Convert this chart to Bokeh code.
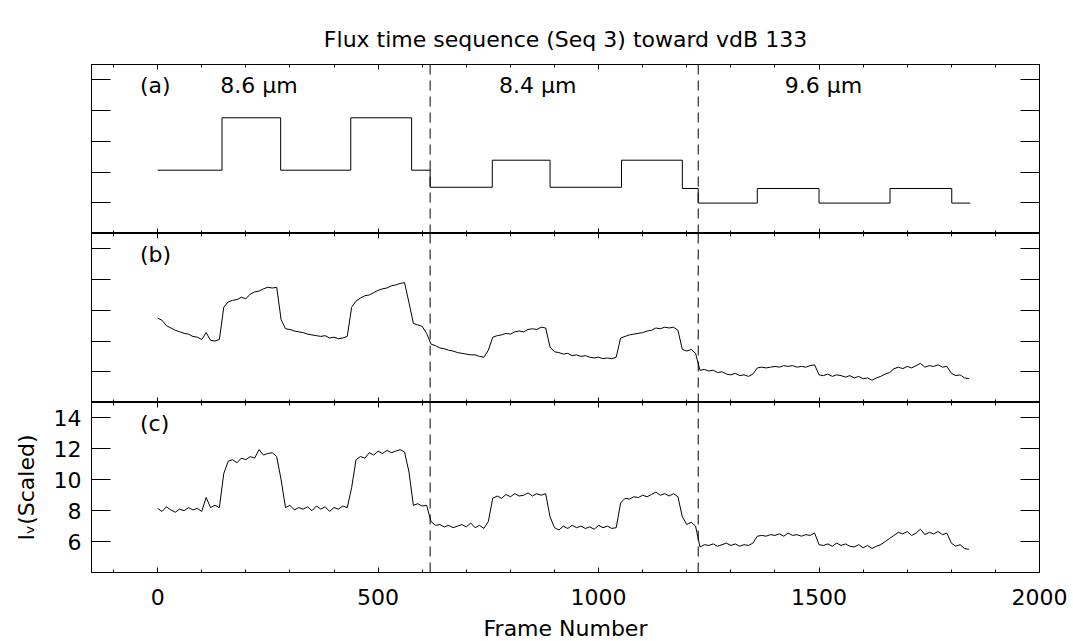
from bokeh.plotting import figure
from bokeh.models import LinearAxis, FixedTicker, Range1d, Span, Label
from bokeh.layouts import column
from bokeh.embed import file_html
from bokeh.resources import INLINE

# ---------------- data ----------------
FRAMES = list(range(0, 1841, 10))

FLUX_B = [
    9.5, 9.35, 9.0, 8.85, 8.7, 8.6, 8.5, 8.45, 8.3, 8.25,
    8.1, 8.55, 8.05, 8.0, 8.1, 10.2, 10.55, 10.65, 10.7, 10.85,
    10.75, 11.05, 11.2, 11.25, 11.4, 11.5, 11.45, 11.5, 9.4, 8.8,
    8.75, 8.65, 8.6, 8.55, 8.45, 8.4, 8.35, 8.3, 8.35, 8.2,
    8.25, 8.15, 8.2, 8.3, 10.2, 10.6, 10.8, 10.95, 11.0, 11.15,
    11.3, 11.4, 11.45, 11.6, 11.65, 11.75, 11.8, 10.5, 9.15, 9.05,
    8.95, 8.5, 7.8, 7.7, 7.55, 7.5, 7.4, 7.35, 7.25, 7.2,
    7.15, 7.1, 7.1, 7.0, 6.95, 7.4, 8.25, 8.35, 8.4, 8.5,
    8.45, 8.6, 8.65, 8.6, 8.75, 8.8, 8.75, 8.9, 8.85, 7.6,
    7.3, 7.25, 7.15, 7.2, 7.05, 7.1, 7.0, 7.05, 6.95, 6.9,
    6.95, 6.85, 6.9, 6.85, 6.95, 8.2, 8.3, 8.4, 8.45, 8.5,
    8.55, 8.65, 8.7, 8.85, 8.8, 8.9, 8.85, 8.9, 8.7, 7.45,
    7.35, 7.45, 7.2, 6.1, 6.15, 6.05, 6.1, 5.95, 6.0, 5.85,
    5.8, 5.9, 5.75, 5.8, 5.7, 5.85, 6.25, 6.3, 6.25, 6.3,
    6.35, 6.3, 6.4, 6.35, 6.4, 6.3, 6.35, 6.3, 6.4, 6.45,
    5.8, 5.75, 5.85, 5.7, 5.8, 5.75, 5.65, 5.75, 5.6, 5.7,
    5.55, 5.6, 5.45, 5.6, 5.7, 5.85, 5.95, 6.2, 6.3, 6.2,
    6.35, 6.25, 6.4, 6.55, 6.3, 6.4, 6.35, 6.45, 6.3, 6.35,
    5.9, 5.75, 5.8, 5.6, 5.55,
]

FLUX_C = [
    8.15, 7.95, 8.25, 8.05, 7.9, 8.1, 8.0, 8.2, 8.05, 8.15,
    7.95, 8.85, 8.2, 8.35, 8.2, 10.4, 11.2, 11.3, 11.1, 11.4,
    11.3, 11.5, 11.4, 11.95, 11.6, 11.7, 11.75, 11.5, 10.0, 8.2,
    8.35, 8.05, 8.2, 8.1, 8.25, 8.0, 8.3, 8.1, 8.25, 7.95,
    8.2, 8.1, 8.3, 8.2, 9.5, 11.3, 11.5, 11.4, 11.75, 11.6,
    11.85, 11.7, 11.9, 11.75, 11.85, 11.95, 11.8, 10.5, 8.35, 8.45,
    8.3, 8.35, 7.3, 7.05, 7.1, 6.95, 7.05, 6.9, 7.0, 7.1,
    6.95, 7.2, 6.9, 7.05, 6.85, 7.3, 8.8, 8.95, 8.8, 9.05,
    8.9, 9.1, 8.95, 9.0, 9.15, 8.95, 9.1, 9.0, 9.1, 7.6,
    6.9, 6.75, 7.0, 6.85, 7.05, 6.9, 7.0, 6.85, 6.95, 6.8,
    7.05, 6.9, 7.0, 6.85, 6.9, 8.5, 8.8, 8.75, 8.9, 8.85,
    9.0, 8.9, 9.05, 9.2, 9.0, 9.1, 8.95, 9.1, 8.9, 7.6,
    7.1, 7.25, 7.0, 5.65, 5.8, 5.75, 5.85, 5.7, 5.8, 5.9,
    5.75, 5.85, 5.7, 5.8, 5.75, 5.9, 6.35, 6.4, 6.35, 6.45,
    6.4, 6.5, 6.35, 6.55, 6.4, 6.45, 6.35, 6.45, 6.4, 6.55,
    5.8, 5.75, 5.85, 5.7, 5.9, 5.75, 5.85, 5.7, 5.65, 5.8,
    5.6, 5.75, 5.55, 5.7, 5.8, 6.0, 6.2, 6.4, 6.6, 6.5,
    6.65, 6.4, 6.55, 6.8, 6.45, 6.6, 6.5, 6.65, 6.45, 6.55,
    5.9, 5.7, 5.8, 5.55, 5.5,
]

STEP_EDGES = [0, 146, 279, 438, 576, 618, 759, 890, 1052, 1190, 1226,
              1360, 1500, 1661, 1801, 1843]
STEP_LEVELS = [8.12, 11.53, 8.12, 11.53, 8.12, 7.01, 8.77, 7.01, 8.77, 6.93,
               5.98, 6.93, 5.98, 6.93, 5.98]

DIVIDERS = [618, 1226]
WAVE_LABELS = ["8.6 \u03bcm", "8.4 \u03bcm", "9.6 \u03bcm"]
WAVE_LABEL_X = [230, 862, 1510]
PANEL_TAGS = ["(a)", "(b)", "(c)"]

X_TICKS = [0, 500, 1000, 1500, 2000]
X_MINOR = [v for v in range(-100, 2001, 100) if v % 500 != 0]
Y_TICKS = [6, 8, 10, 12, 14]

FONT = "DejaVu Sans"
TICK_FS = "22px"
INK = "black"


def hide_labels(ax, ticks):
    ax.major_label_overrides = {t: "" for t in ticks}
    ax.major_label_text_font_size = "1px"
    ax.major_label_standoff = 0


def add_axes(p, x_labels, y_labels):
    for side, show in (("below", x_labels), ("above", False)):
        ax = LinearAxis(ticker=FixedTicker(ticks=X_TICKS, minor_ticks=X_MINOR))
        ax.major_tick_in = 5
        ax.major_tick_out = 0
        ax.minor_tick_in = 3
        ax.minor_tick_out = 0
        ax.axis_line_color = INK
        ax.major_tick_line_color = INK
        ax.minor_tick_line_color = INK
        if show:
            ax.major_label_text_font = FONT
            ax.major_label_text_font_size = TICK_FS
            ax.major_label_text_color = INK
            ax.major_label_standoff = 16
            ax.axis_label = "Frame Number"
            ax.axis_label_text_font = FONT
            ax.axis_label_text_font_size = TICK_FS
            ax.axis_label_text_font_style = "normal"
            ax.axis_label_text_color = INK
            ax.axis_label_standoff = 8
        else:
            hide_labels(ax, X_TICKS)
        p.add_layout(ax, side)
    for side, show in (("left", y_labels), ("right", False)):
        ay = LinearAxis(ticker=FixedTicker(ticks=Y_TICKS, minor_ticks=[]))
        ay.major_tick_in = 19
        ay.major_tick_out = 0
        ay.minor_tick_in = 0
        ay.minor_tick_out = 0
        ay.axis_line_color = INK
        ay.major_tick_line_color = INK
        if show:
            ay.major_label_text_font = FONT
            ay.major_label_text_font_size = TICK_FS
            ay.major_label_text_color = INK
            ay.major_label_standoff = 10
            ay.major_label_orientation = "horizontal"
            ay.axis_label = "I\u1d65(Scaled)"
            ay.axis_label_text_font = FONT
            ay.axis_label_text_font_size = TICK_FS
            ay.axis_label_text_font_style = "normal"
            ay.axis_label_text_color = INK
            ay.axis_label_standoff = 12
        else:
            hide_labels(ay, Y_TICKS)
        p.add_layout(ay, side)


def make_panel(frame_h, border_top, border_bottom, tag, x_labels=False, y_labels=False, title=None):
    p = figure(frame_width=948, frame_height=frame_h,
               x_range=Range1d(-150, 2000), y_range=Range1d(4, 15),
               x_axis_location=None, y_axis_location=None,
               toolbar_location=None, output_backend="svg",
               min_border_left=91, min_border_right=34,
               min_border_top=border_top, min_border_bottom=border_bottom,
               title=title)
    p.grid.visible = False
    p.outline_line_color = INK
    p.outline_line_width = 1
    p.background_fill_color = "white"
    p.border_fill_color = "white"
    if title is not None:
        p.title.align = "center"
        p.title.text_font = FONT
        p.title.text_font_size = "22px"
        p.title.text_font_style = "normal"
        p.title.text_color = INK
        p.title.standoff = 26
    add_axes(p, x_labels, y_labels)
    for d in DIVIDERS:
        p.add_layout(Span(location=d, dimension="height", line_color=INK,
                          line_width=1, line_dash="10 6"))
    p.add_layout(Label(x=-40, y=13.65, text=tag, text_font=FONT,
                       text_font_size="22px", text_baseline="middle",
                       text_align="left", text_color=INK))
    return p


pa = make_panel(169, 64, 0, PANEL_TAGS[0],
                title="Flux time sequence (Seq 3) toward vdB 133")
pa.step(STEP_EDGES, STEP_LEVELS + [STEP_LEVELS[-1]], mode="after",
        line_color=INK, line_width=1)
for txt, xx in zip(WAVE_LABELS, WAVE_LABEL_X):
    pa.add_layout(Label(x=xx, y=13.65, text=txt, text_font=FONT,
                        text_font_size="22px", text_baseline="middle",
                        text_align="center", text_color=INK))

pb = make_panel(169, 0, 0, PANEL_TAGS[1])
pb.line(FRAMES, FLUX_B, line_color=INK, line_width=1)

pc = make_panel(170, 0, 69, PANEL_TAGS[2], x_labels=True, y_labels=True)
pc.line(FRAMES, FLUX_C, line_color=INK, line_width=1)

layout = column(pa, pb, pc, spacing=0)

open("out.html", "w").write(file_html(layout, INLINE))
